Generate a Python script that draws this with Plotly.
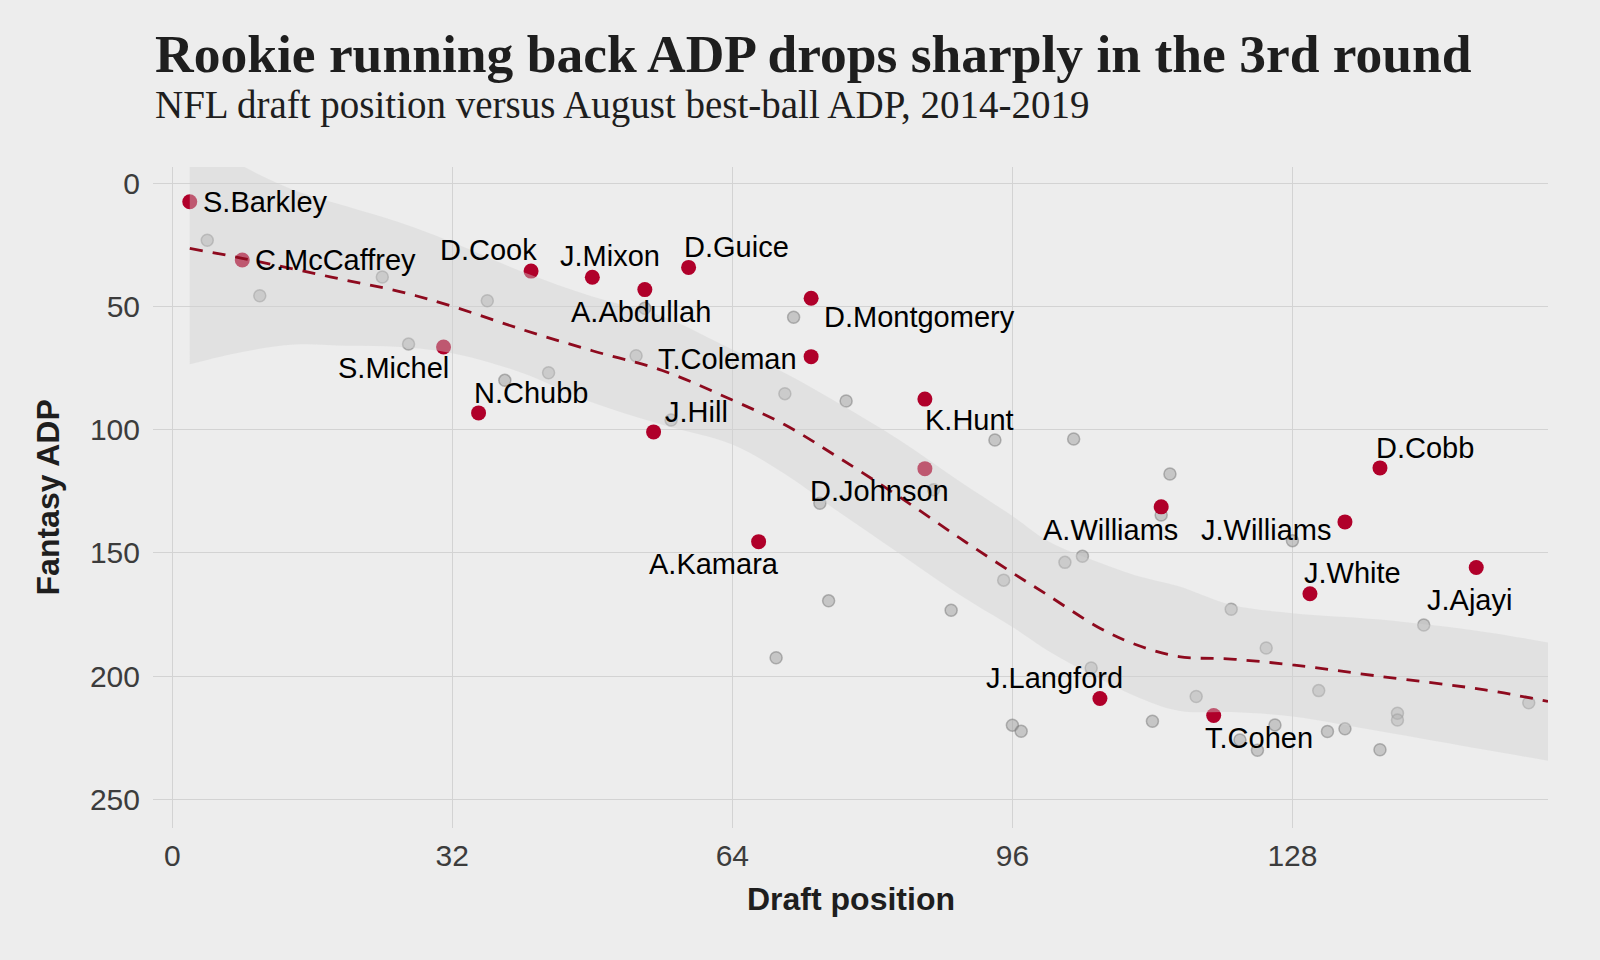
import plotly.graph_objects as go

# ---------------- data ----------------
rookie_names = ["S.Barkley", "C.McCaffrey", "D.Cook", "J.Mixon", "A.Abdullah", "D.Guice",
                "D.Montgomery", "T.Coleman", "S.Michel", "N.Chubb", "J.Hill", "K.Hunt",
                "D.Johnson", "A.Kamara", "A.Williams", "J.Williams", "D.Cobb", "J.White",
                "J.Ajayi", "J.Langford", "T.Cohen"]
rookie_pick = [2, 8, 41, 48, 54, 59, 73, 73, 31, 35, 55, 86, 86, 67, 113, 134, 138, 130, 149, 106, 119]
rookie_adp = [7.6, 31.2, 35.7, 38.2, 43.2, 34.2, 46.7, 70.4, 66.5, 93.2, 100.9, 87.6,
              115.8, 145.4, 131.3, 137.4, 115.5, 166.5, 155.9, 209.0, 215.9]

other_pick = [4, 10, 24, 27, 36, 38, 43, 53, 54, 57, 70, 71, 77, 74, 75, 69, 87, 89, 94, 103,
              95, 102, 104, 105, 114, 113, 128, 143, 121, 125, 117, 112, 96, 97, 126, 124,
              122, 132, 134, 138, 140, 140, 131, 155]
other_adp = [23.2, 45.7, 38.1, 65.3, 47.7, 80.0, 76.9, 70.0, 50.8, 96.1, 85.4, 54.4, 88.4,
             129.8, 169.4, 192.5, 124.4, 173.2, 104.2, 103.8, 161.0, 153.8, 151.3, 196.6,
             118.0, 134.6, 145.0, 179.2, 172.8, 188.5, 208.2, 218.2, 219.8, 222.3, 219.7,
             230.0, 225.8, 222.4, 221.3, 229.8, 215.0, 217.7, 205.8, 210.7]

smooth_x = [2, 8, 14, 20, 26, 32, 40, 48, 56, 64, 70, 76, 83, 90, 96, 100, 106, 110, 115,
            121, 128, 138, 150, 157.2]
smooth_y = [26.5, 30.5, 35, 39.5, 44, 50, 59.4, 68, 76, 88, 98, 111, 127, 144, 158, 167,
            180.5, 187, 192, 193, 195.4, 200, 205.5, 210.2]
band_upper = [-20, -7, 3, 9.5, 16, 24, 36, 46, 54, 67.5, 77, 89, 104, 121, 135, 145, 154,
              159, 163.5, 171, 174.4, 177, 182, 186.3]
band_lower = [73.5, 68.5, 65.5, 66, 66.5, 69, 77, 89, 98, 106, 118, 133, 150, 167, 180,
              189.5, 201, 208, 214, 214.5, 216.3, 222.3, 229.8, 234.2]

x_ticks = [0, 32, 64, 96, 128]
y_ticks = [0, 50, 100, 150, 200, 250]

# ---------------- label placement (pixels: anchor, dx, dy-down) ----------------
label_place = {
    "S.Barkley": ("left", 11, 0), "C.McCaffrey": ("left", 11, 0),
    "D.Cook": ("center", -43, -21), "J.Mixon": ("center", 18, -21),
    "D.Guice": ("center", 48, -20), "A.Abdullah": ("center", -4, 22),
    "D.Montgomery": ("left", 11, 19), "T.Coleman": ("right", -12, 2),
    "S.Michel": ("center", -50, 21), "N.Chubb": ("center", 52, -20),
    "J.Hill": ("center", 43, -20), "K.Hunt": ("center", 45, 21),
    "D.Johnson": ("center", -45, 22), "A.Kamara": ("center", -45, 22),
    "A.Williams": ("center", -51, 23), "J.Williams": ("right", -11, 8),
    "D.Cobb": ("center", 45, -20), "J.White": ("center", 43, -21),
    "J.Ajayi": ("center", -7, 32), "J.Langford": ("center", -45, -21),
    "T.Cohen": ("center", 45, 22),
}

BG = "#EDEDED"
SANS = "Liberation Sans, Arial, sans-serif"
SERIF = "Liberation Serif, Times New Roman, serif"

fig = go.Figure()

fig.add_trace(go.Scatter(
    x=other_pick, y=other_adp, mode="markers", hoverinfo="skip",
    marker=dict(size=12, color="rgba(150,150,150,0.45)",
                line=dict(color="rgba(120,120,120,0.5)", width=1.5)),
    showlegend=False))

fig.add_trace(go.Scatter(
    x=rookie_pick, y=rookie_adp, mode="markers", text=rookie_names,
    marker=dict(size=15, color="#B0002A", line=dict(width=0)),
    showlegend=False))

fig.add_trace(go.Scatter(
    x=smooth_x, y=band_upper, mode="lines", line=dict(width=0, shape="spline"),
    hoverinfo="skip", showlegend=False))
fig.add_trace(go.Scatter(
    x=smooth_x, y=band_lower, mode="lines", line=dict(width=0, shape="spline"),
    fill="tonexty", fillcolor="rgba(210,210,210,0.42)", hoverinfo="skip",
    showlegend=False))

fig.add_trace(go.Scatter(
    x=smooth_x, y=smooth_y, mode="lines",
    line=dict(color="#8E0A1E", width=2.8, dash="13px,10px", shape="spline"),
    hoverinfo="skip", showlegend=False))

annotations = []
for name, px_, py_ in zip(rookie_names, rookie_pick, rookie_adp):
    anchor, dx, dy = label_place[name]
    annotations.append(dict(
        x=px_, y=py_, xref="x", yref="y", text=name, showarrow=False,
        xanchor=anchor, yanchor="middle", xshift=dx, yshift=-dy,
        font=dict(family=SANS, size=29, color="#000000")))

annotations += [
    dict(x=0, y=1.1224, xref="paper", yref="paper", xanchor="left", yanchor="bottom",
         text="<b>Rookie running back ADP drops sharply in the 3rd round</b>",
         showarrow=False, font=dict(family=SERIF, size=53.5, color="#1E1E1E")),
    dict(x=0, y=1.0575, xref="paper", yref="paper", xanchor="left", yanchor="bottom",
         text="NFL draft position versus August best-ball ADP, 2014-2019",
         showarrow=False, font=dict(family=SERIF, size=39, color="#1E1E1E")),
    dict(x=0.5004, y=-0.108, xref="paper", yref="paper", xanchor="center", yanchor="middle",
         text="<b>Draft position</b>", showarrow=False,
         font=dict(family=SANS, size=32, color="#1E1E1E")),
    dict(x=-0.0753, y=0.5, xref="paper", yref="paper", xanchor="center", yanchor="middle",
         text="<b>Fantasy ADP</b>", textangle=-90, showarrow=False,
         font=dict(family=SANS, size=32, color="#1E1E1E")),
]

fig.update_layout(
    width=1600, height=960, autosize=False,
    paper_bgcolor=BG, plot_bgcolor=BG,
    margin=dict(l=153, r=52, t=167, b=132, pad=0),
    annotations=annotations,
    hovermode="closest",
)
fig.update_xaxes(range=[-2.2, 157.2], tickvals=x_ticks, showgrid=True,
                 gridcolor="#D3D3D3", gridwidth=1.3, zeroline=False, showline=False,
                 ticks="", ticklabelstandoff=7,
                 tickfont=dict(family=SANS, size=30, color="#3C3C3C"))
fig.update_yaxes(range=[261.5, -6.5], tickvals=y_ticks, showgrid=True,
                 gridcolor="#D3D3D3", gridwidth=1.3, zeroline=False, showline=False,
                 ticks="", ticklabelstandoff=12,
                 tickfont=dict(family=SANS, size=30, color="#3C3C3C"))

fig.write_html("out.html")
